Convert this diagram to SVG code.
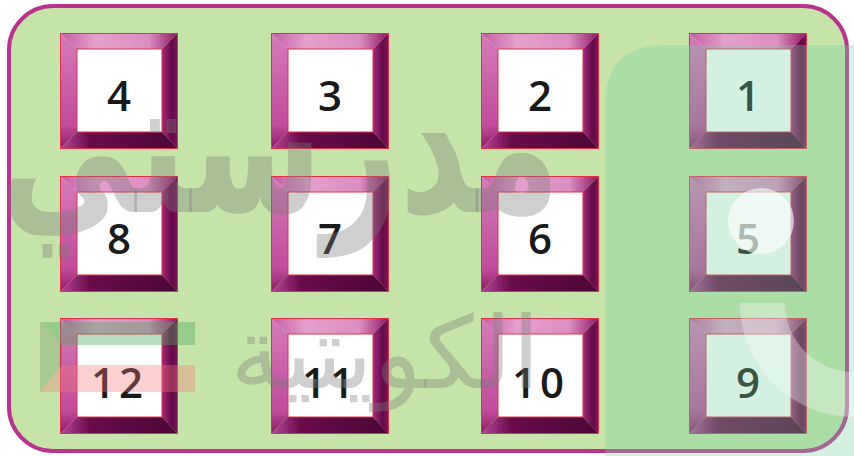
<svg xmlns="http://www.w3.org/2000/svg" xmlns:xlink="http://www.w3.org/1999/xlink" width="854" height="456" viewBox="0 0 854 456">
<style>
.num{font-family:"Open Sans","Liberation Sans",sans-serif;font-size:42px;font-weight:600;fill:#1a1a1a;text-anchor:middle}
.wm{font-family:"DejaVu Sans",sans-serif;fill:#7a7a7a;fill-opacity:0.36}
.edge{fill:none;stroke:#e0304c;stroke-width:1}
</style>
<defs>
<linearGradient id="gTop" x1="0" y1="0" x2="1" y2="0">
<stop offset="0" stop-color="#c45aa4"/><stop offset="0.3" stop-color="#e4a0cc"/><stop offset="0.75" stop-color="#dc8ec2"/><stop offset="1" stop-color="#8e1462"/>
</linearGradient>
<linearGradient id="gLeft" x1="0" y1="0" x2="0" y2="1">
<stop offset="0" stop-color="#d47cb8"/><stop offset="0.8" stop-color="#c04c9a"/><stop offset="1" stop-color="#8a1a62"/>
</linearGradient>
<linearGradient id="gRight" x1="0" y1="0" x2="1" y2="0">
<stop offset="0" stop-color="#a42a7c"/><stop offset="0.6" stop-color="#640a46"/><stop offset="1" stop-color="#7c165a"/>
</linearGradient>
<linearGradient id="gBot" x1="0" y1="0" x2="1" y2="0">
<stop offset="0" stop-color="#b8489a"/><stop offset="0.25" stop-color="#6a0c4a"/><stop offset="1" stop-color="#4c0636"/>
</linearGradient>
<g id="frame">
<polygon points="0,0 118,0 102,16 17,16" fill="url(#gTop)"/>
<polygon points="0,0 17,16 17,99 0,116" fill="url(#gLeft)"/>
<polygon points="118,0 118,116 102,99 102,16" fill="url(#gRight)"/>
<polygon points="0,116 17,99 102,99 118,116" fill="url(#gBot)"/>
<rect x="17" y="16" width="85" height="83" fill="#ffffff"/>
<rect x="0.5" y="0.5" width="117" height="115" class="edge"/>
<rect x="17" y="16" width="85" height="83" class="edge"/>
</g>
</defs>
<rect x="0" y="0" width="854" height="456" fill="#ffffff"/>
<rect id="panel" x="9" y="6" width="838" height="445" rx="44" ry="44" fill="#c6e4aa" stroke="#b8348c" stroke-width="4"/>

<g id="box4" transform="translate(60,33)"><use xlink:href="#frame"/><text class="num" x="59" y="78">4</text></g>
<g id="box3" transform="translate(271,33)"><use xlink:href="#frame"/><text class="num" x="59" y="78">3</text></g>
<g id="box2" transform="translate(481,33)"><use xlink:href="#frame"/><text class="num" x="59" y="78">2</text></g>
<g id="box1" transform="translate(689,33)"><use xlink:href="#frame"/><text class="num" x="59" y="78">1</text></g>
<g id="box8" transform="translate(60,176)"><use xlink:href="#frame"/><text class="num" x="59" y="78">8</text></g>
<g id="box7" transform="translate(271,176)"><use xlink:href="#frame"/><text class="num" x="59" y="78">7</text></g>
<g id="box6" transform="translate(481,176)"><use xlink:href="#frame"/><text class="num" x="59" y="78">6</text></g>
<g id="box5" transform="translate(689,176)"><use xlink:href="#frame"/><text class="num" x="59" y="78">5</text></g>
<g id="box12" transform="translate(60,318)"><use xlink:href="#frame"/><text class="num" x="59" y="80" letter-spacing="4">12</text></g>
<g id="box11" transform="translate(271,318)"><use xlink:href="#frame"/><text class="num" x="59" y="80" letter-spacing="4">11</text></g>
<g id="box10" transform="translate(481,318)"><use xlink:href="#frame"/><text class="num" x="59" y="80" letter-spacing="4">10</text></g>
<g id="box9" transform="translate(689,318)"><use xlink:href="#frame"/><text class="num" x="59" y="80">9</text></g>

<g id="connectors"></g>

<g id="watermark">
<path d="M605,456 L605,105 Q605,45 665,45 L854,45 L854,456 Z" fill="#78d0a0" fill-opacity="0.32"/>
<circle cx="761" cy="221" r="33" fill="#ffffff" fill-opacity="0.6"/>
<path d="M740,303 A114,114 0 0 0 854,417 L854,372 A69,69 0 0 1 785,303 Z" fill="#ffffff" fill-opacity="0.3"/>
<polygon points="40,322 195,322 195,345 62,345" fill="#4fa860" fill-opacity="0.4"/>
<polygon points="62,365 195,365 195,392 40,392" fill="#f07878" fill-opacity="0.35"/>
<polygon points="40,322 62,345 62,365 40,392" fill="#3a5a3a" fill-opacity="0.2"/>
<text class="wm" x="280" y="212" font-size="190" font-weight="bold" text-anchor="middle" textLength="560" lengthAdjust="spacingAndGlyphs">مدرستي</text>
<text class="wm" x="385" y="388" font-size="100" text-anchor="middle" textLength="310" lengthAdjust="spacingAndGlyphs" fill-opacity="0.2">الكويتية</text>
</g>
</svg>
